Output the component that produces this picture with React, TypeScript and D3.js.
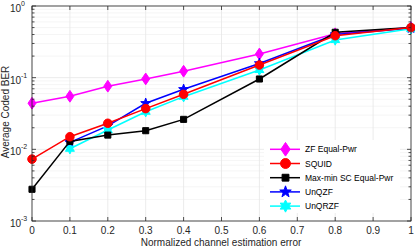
import React from "react";
import * as d3 from "d3";

const xTicks = [0, 0.1, 0.2, 0.3, 0.4, 0.5, 0.6, 0.7, 0.8, 0.9, 1];
const yTickExps = [0, -1, -2, -3];

const xFull = [0, 0.1, 0.2, 0.3, 0.4, 0.6, 0.8, 1];
const xPart = [0.1, 0.2, 0.3, 0.4, 0.6, 0.8, 1];

const zfEqual = [0.044, 0.055, 0.076, 0.096, 0.123, 0.214, 0.41, 0.5];
const squid = [0.0073, 0.015, 0.0231, 0.037, 0.0586, 0.15, 0.385, 0.5];
const maxMin = [0.00277, 0.0129, 0.0158, 0.0182, 0.0262, 0.0958, 0.43, 0.5];
const unqzf = [0.0125, 0.0212, 0.0439, 0.0688, 0.158, 0.4, 0.49];
const unqrzf = [0.0102, 0.0186, 0.0335, 0.0543, 0.128, 0.336, 0.48];

type Series = { name: string; xs: number[]; ys: number[]; color: string; marker: string };

const seriesList: Series[] = [
  { name: "ZF Equal-Pwr", xs: xFull, ys: zfEqual, color: "#ff00ff", marker: "diamond" },
  { name: "SQUID", xs: xFull, ys: squid, color: "#ff0000", marker: "circle" },
  { name: "Max-min SC Equal-Pwr", xs: xFull, ys: maxMin, color: "#000000", marker: "square" },
  { name: "UnQZF", xs: xPart, ys: unqzf, color: "#0000ff", marker: "star" },
  { name: "UnQRZF", xs: xPart, ys: unqrzf, color: "#00ffff", marker: "hexagram" },
];
const drawOrder = [0, 3, 4, 2, 1];

const W = 415, H = 247;
const L = 32, R = 411, T = 6, B = 221;
const font = "'Liberation Sans', Arial, Helvetica, sans-serif";
const axisColor = "#262626";

function markerPath(kind: string, s: number): string {
  if (kind === "diamond") {
    return `M0,${-s * 0.62}L${s * 0.42},0L0,${s * 0.62}L${-s * 0.42},0Z`;
  }
  if (kind === "square") {
    const h = s * 0.38;
    return `M${-h},${-h}H${h}V${h}H${-h}Z`;
  }
  if (kind === "star" || kind === "hexagram") {
    const n = kind === "star" ? 5 : 6;
    const ro = s * 0.55;
    const ri = kind === "star" ? ro * 0.4 : ro * 0.55;
    const pts: string[] = [];
    for (let i = 0; i < 2 * n; i++) {
      const a = -Math.PI / 2 + (i * Math.PI) / n;
      const r = i % 2 === 0 ? ro : ri;
      pts.push(`${(r * Math.cos(a)).toFixed(2)},${(r * Math.sin(a)).toFixed(2)}`);
    }
    return "M" + pts.join("L") + "Z";
  }
  return "";
}

function Marker({ kind, x, y, color, s }: { kind: string; x: number; y: number; color: string; s: number }) {
  if (kind === "circle") {
    return <circle cx={x} cy={y} r={s * 0.45} fill={color} stroke={color} strokeWidth={1} />;
  }
  return <path d={markerPath(kind, s)} transform={`translate(${x},${y})`} fill={color} stroke={color} strokeWidth={1} strokeLinejoin="miter" />;
}

export default function App() {
  const x = d3.scaleLinear().domain([0, 1]).range([L, R]);
  const y = d3.scaleLog().domain([1e-3, 1]).range([B, T]);
  const line = d3.line<[number, number]>().x((d) => x(d[0])).y((d) => y(d[1]));

  const minorY: number[] = [];
  for (let e = -3; e < 0; e++) {
    for (let k = 2; k <= 9; k++) minorY.push(k * Math.pow(10, e));
  }

  const legX = 264, legY = 140, legW = 136, legH = 73;
  const legRow = 14.2;

  return (
    <svg width={W} height={H} style={{ position: "absolute", left: 0, top: 0, background: "#fff" }} fontFamily={font}>
      <rect x={L} y={T} width={R - L} height={B - T} fill="#fff" />
      {/* minor grid */}
      {minorY.map((v, i) => (
        <line key={"mg" + i} x1={L} x2={R} y1={y(v)} y2={y(v)} stroke="#f2f2f2" strokeWidth={0.8} />
      ))}
      {/* major grid */}
      {xTicks.map((v, i) => (
        <line key={"gx" + i} x1={x(v)} x2={x(v)} y1={T} y2={B} stroke="#e6e6e6" strokeWidth={0.8} />
      ))}
      {yTickExps.map((e, i) => (
        <line key={"gy" + i} x1={L} x2={R} y1={y(Math.pow(10, e))} y2={y(Math.pow(10, e))} stroke="#e6e6e6" strokeWidth={0.8} />
      ))}

      {/* series */}
      {drawOrder.map((idx) => {
        const s = seriesList[idx];
        const pts = s.xs.map((xv, i) => [xv, s.ys[i]] as [number, number]);
        return (
          <g key={s.name}>
            <path d={line(pts) || ""} fill="none" stroke={s.color} strokeWidth={1.5} />
            {pts.map((p, i) => (
              <Marker key={i} kind={s.marker} x={x(p[0])} y={y(p[1])} color={s.color} s={s.marker === "square" ? 8 : 9.5} />
            ))}
          </g>
        );
      })}

      {/* axes box */}
      <rect x={L} y={T} width={R - L} height={B - T} fill="none" stroke={axisColor} strokeWidth={0.8} />
      {/* x ticks */}
      {xTicks.map((v, i) => (
        <g key={"xt" + i}>
          <line x1={x(v)} x2={x(v)} y1={B} y2={B - 4} stroke={axisColor} strokeWidth={0.8} />
          <line x1={x(v)} x2={x(v)} y1={T} y2={T + 4} stroke={axisColor} strokeWidth={0.8} />
          <text x={x(v)} y={234} textAnchor="middle" fontSize={10} fill={axisColor}>
            {String(v)}
          </text>
        </g>
      ))}
      {/* y ticks */}
      {yTickExps.map((e, i) => {
        const yy = y(Math.pow(10, e));
        return (
          <g key={"yt" + i}>
            <line x1={L} x2={L + 4} y1={yy} y2={yy} stroke={axisColor} strokeWidth={0.8} />
            <line x1={R} x2={R - 4} y1={yy} y2={yy} stroke={axisColor} strokeWidth={0.8} />
            <text x={21} y={yy + 6} textAnchor="end" fontSize={10} fill={axisColor}>10</text>
            <text x={21} y={yy} textAnchor="start" fontSize={7} fill={axisColor}>{String(e)}</text>
          </g>
        );
      })}
      {minorY.map((v, i) => (
        <g key={"ym" + i}>
          <line x1={L} x2={L + 2.5} y1={y(v)} y2={y(v)} stroke={axisColor} strokeWidth={0.8} />
          <line x1={R} x2={R - 2.5} y1={y(v)} y2={y(v)} stroke={axisColor} strokeWidth={0.8} />
        </g>
      ))}

      {/* axis labels */}
      <text x={221} y={246} textAnchor="middle" fontSize={10} fill={axisColor}>
        Normalized channel estimation error
      </text>
      <text transform={`translate(9,112) rotate(-90)`} textAnchor="middle" fontSize={10} fill={axisColor}>
        Average Coded BER
      </text>

      {/* legend */}
      <rect x={legX} y={legY} width={legW} height={legH} fill="#fff" />
      {seriesList.map((s, i) => {
        const cy = legY + 9.3 + i * legRow;
        return (
          <g key={"lg" + i}>
            <line x1={270} x2={300} y1={cy} y2={cy} stroke={s.color} strokeWidth={1.5} />
            <Marker kind={s.marker} x={285.5} y={cy} color={s.color} s={s.marker === "square" ? 9 : 11} />
            <text x={305} y={cy + 3} fontSize={8.5} fill="#000">{s.name}</text>
          </g>
        );
      })}
    </svg>
  );
}
